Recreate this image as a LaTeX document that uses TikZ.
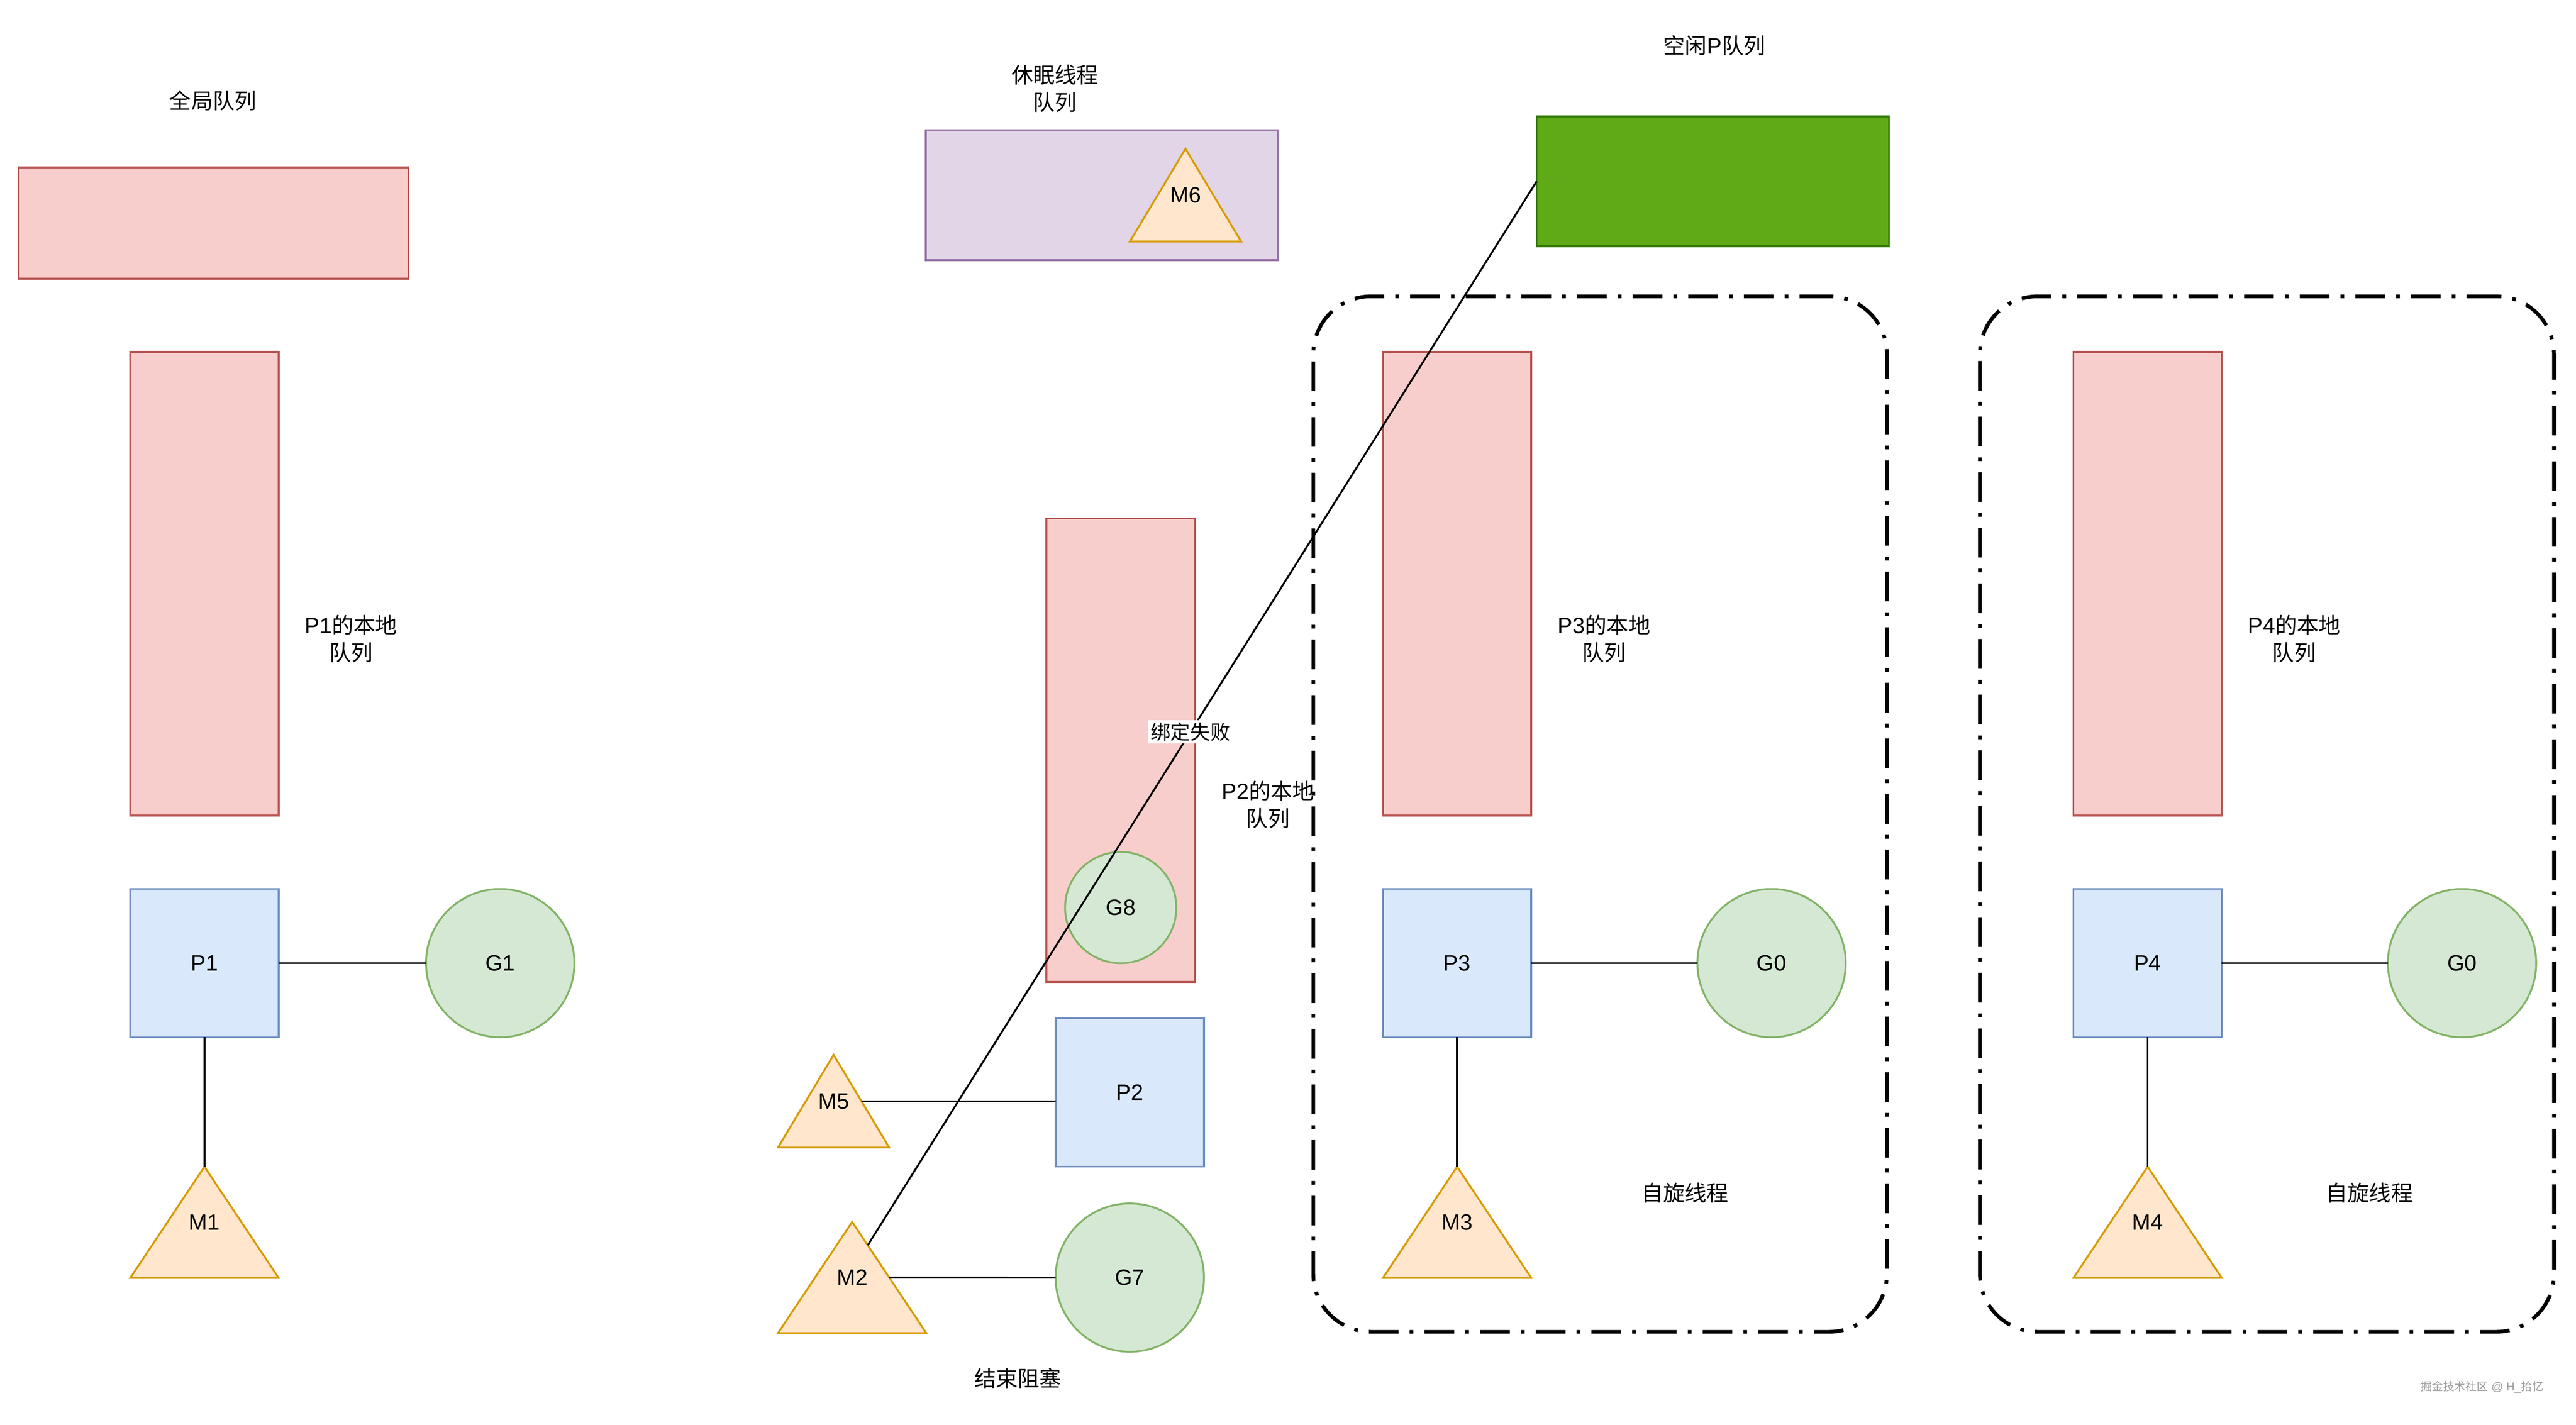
\documentclass[tikz,border=0pt]{standalone}
\usepackage{fontspec}
\setmainfont{Liberation Sans}
\newfontfamily\cjk{Noto Sans CJK SC}[Scale=0.978]
\usetikzlibrary{calc}
\definecolor{qfill}{HTML}{F8CECC}\definecolor{qdraw}{HTML}{B85450}
\definecolor{pfill}{HTML}{DAE8FC}\definecolor{pdraw}{HTML}{6C8EBF}
\definecolor{gfill}{HTML}{D5E8D4}\definecolor{gdraw}{HTML}{82B366}
\definecolor{mfill}{HTML}{FFE6CC}\definecolor{mdraw}{HTML}{D79B00}
\definecolor{sfill}{HTML}{E1D5E7}\definecolor{sdraw}{HTML}{9673A6}
\definecolor{ifill}{HTML}{60A917}\definecolor{idraw}{HTML}{2D7600}
\definecolor{wmark}{HTML}{9A9A9A}
\newcommand{\lblfont}{\fontsize{13.5}{16.5}\selectfont}
\newcommand{\edgefont}{\fontsize{12.4}{14}\selectfont}
\newcommand{\wmfont}{\fontsize{7}{8}\selectfont}
\tikzset{
  base/.style={inner sep=0pt, outer sep=0pt, line width=1.125pt, font=\lblfont},
  queue/.style={base, rectangle, draw=qdraw, fill=qfill, minimum width=90pt, minimum height=281.25pt},
  wide/.style={base, rectangle, minimum width=213.75pt, minimum height=78.75pt},
  pbox/.style={base, rectangle, draw=pdraw, fill=pfill, minimum width=90pt, minimum height=90pt},
  gcirc/.style={base, circle, draw=gdraw, fill=gfill, minimum size=90pt},
  mtriangle/.style={line width=1.125pt, draw=mdraw, fill=mfill},
  link/.style={line width=1.125pt, draw=black},
  lbl/.style={inner sep=0pt, outer sep=0pt, font=\lblfont, align=center},
  elbl/.style={inner sep=1.5pt, outer sep=0pt, font=\edgefont, fill=white},
  spinbox/.style={rectangle, draw=black, line width=2.25pt, inner sep=0pt, outer sep=0pt,
    dash pattern=on 18pt off 6.75pt on 2.25pt off 6.75pt, rounded corners=35pt},
}
% name, cx, cy, width, height, text
\newcommand{\mshape}[6]{%
  \filldraw[mtriangle] (#2-#4/2,#3+#5/2) -- (#2,#3-#5/2) -- (#2+#4/2,#3+#5/2) -- cycle;
  \node[base, minimum width=#4pt, minimum height=#5pt] (#1) at (#2,#3) {#6};
}
\begin{document}
\begin{tikzpicture}[x=1pt, y=-1pt]
\path[use as bounding box, fill=white] (0,0) rectangle (1563,864.6);

% spinning thread containers
\node[spinbox, minimum width=348pt, minimum height=628.3pt] (spin1) at (970.85,493.95) {};
\node[spinbox, minimum width=348.3pt, minimum height=628.3pt] (spin2) at (1375.45,493.95) {};

% global queue
\node[lbl] (tgq) at (129.2,61.2) {\cjk 全局队列};
\node[base, rectangle, draw=qdraw, fill=qfill, minimum width=236.25pt, minimum height=67.5pt] (gq) at (129.55,135.3) {};

% sleeping thread queue
\node[lbl] (tsq) at (640.1,53.75) {{\cjk 休眠线程}\\{\cjk 队列}};
\node[wide, draw=sdraw, fill=sfill] (sq) at (668.65,118.4) {};
\mshape{M6}{719.3}{118.4}{67.5}{56.25}{M6}

% idle P queue
\node[lbl] (tidle) at (1040.2,27.6) {{\cjk 空闲}P{\cjk 队列}};
\node[wide, draw=idraw, fill=ifill] (idle) at (1039.25,110) {};

% P1 group
\node[queue] (lq1) at (124.05,354.15) {};
\node[lbl] (tlq1) at (213,387.6) {P1{\cjk 的本地}\\{\cjk 队列}};
\node[pbox] (P1) at (124.05,584.4) {P1};
\node[gcirc] (G1) at (303.5,584.4) {G1};
\mshape{M1}{124.05}{741.65}{90}{67.5}{M1}

% P2 group
\node[queue] (lq2) at (679.95,455.2) {};
\node[lbl] (tlq2) at (769.3,488.2) {P2{\cjk 的本地}\\{\cjk 队列}};
\node[base, circle, draw=gdraw, fill=gfill, minimum size=67.5pt] (G8) at (680,550.7) {G8};
\node[pbox] (P2) at (685.45,662.9) {P2};
\mshape{M5}{505.8}{668.15}{67.5}{56.25}{M5}
\mshape{M2}{517.05}{775.15}{90}{67.5}{M2}
\node[gcirc] (G7) at (685.5,775.2) {G7};
\node[lbl] (tend) at (617.6,836.2) {\cjk 结束阻塞};

% P3 group
\node[queue] (lq3) at (884.1,354.15) {};
\node[lbl] (tlq3) at (973.3,387.6) {P3{\cjk 的本地}\\{\cjk 队列}};
\node[pbox] (P3) at (884.1,584.4) {P3};
\node[gcirc] (G0a) at (1074.9,584.4) {G0};
\mshape{M3}{884.1}{741.65}{90}{67.5}{M3}
\node[lbl] (tspin1) at (1022.4,723.7) {\cjk 自旋线程};

% P4 group
\node[queue] (lq4) at (1303.05,354.15) {};
\node[lbl] (tlq4) at (1392.0,387.6) {P4{\cjk 的本地}\\{\cjk 队列}};
\node[pbox] (P4) at (1303.05,584.4) {P4};
\node[gcirc] (G0b) at (1493.85,584.4) {G0};
\mshape{M4}{1303.05}{741.65}{90}{67.5}{M4}
\node[lbl] (tspin2) at (1437.6,723.7) {\cjk 自旋线程};

% connectors
\draw[link] (P1) -- (G1);
\draw[link] (P1.south) -- (M1.north);
\draw[link] (P3) -- (G0a);
\draw[link] (P3.south) -- (M3.north);
\draw[link] (P4) -- (G0b);
\draw[link] (P4.south) -- (M4.north);
\coordinate (M5e) at ($(M5.north)!0.5!(M5.south east)$);
\draw[link] (M5e) -- (M5e -| P2.west);
\coordinate (M2e) at ($(M2.north)!0.5!(M2.south east)$);
\draw[link] (M2e) -- (G7);
\coordinate (M2n) at ($(M2.north)!0.21!(M2.south east)$);
\draw[link] (M2n) -- (idle.west) node[elbl, pos=0.4825] (bindfail) {\cjk 绑定失败};

% watermark
\node[inner sep=0pt, font=\wmfont, text=wmark] (wm) at (1506,841.7) {{\cjk 掘金技术社区} @ H\_{\cjk 拾忆}};
\end{tikzpicture}
\end{document}
